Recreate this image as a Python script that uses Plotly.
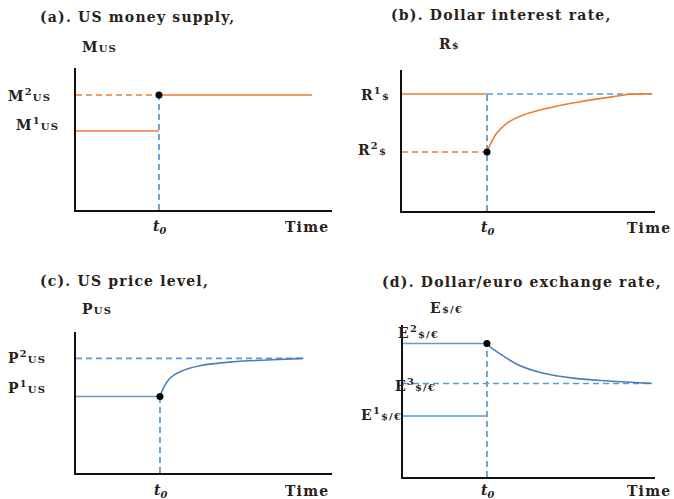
import plotly.graph_objects as go

W, H = 674, 499
ORANGE = "#ED7D31"
BLUE = "#5B9BD5"
BLUE_DARK = "#4A7DBA"
INK = "#2a2118"
SERIF = "DejaVu Serif"

# ---- (a) US money supply: step up at t0 ----
a_t0, a_end = 3.24, 9.22
a_m1, a_m2 = 5.56, 8.10

# ---- (b) Dollar interest rate: drops at t0, then recovers ----
b_t0, b_end = 3.36, 9.88
b_r1, b_r2 = 8.30, 4.18
b_curve_t = [3.36, 3.48, 3.74, 4.14, 4.79, 5.72, 7.04, 8.35, 9.01, 9.88]
b_curve_r = [4.18, 4.68, 5.51, 6.22, 6.81, 7.28, 7.75, 8.11, 8.28, 8.30]

# ---- (c) US price level: gradual rise after t0 ----
c_t0, c_end = 3.28, 8.95
c_p1, c_p2 = 5.43, 8.13
c_curve_t = [3.28, 3.41, 3.67, 4.06, 4.84, 6.14, 7.45, 8.88]
c_curve_p = [5.43, 6.01, 6.72, 7.18, 7.61, 7.89, 8.01, 8.13]

# ---- (d) Dollar/euro exchange rate: overshoot then settle ----
d_t0, d_end = 3.33, 9.88
d_e1, d_e2, d_e3 = 4.01, 8.78, 6.15
d_curve_t = [3.33, 3.45, 3.92, 4.58, 5.50, 6.83, 8.15, 9.87]
d_curve_e = [8.78, 8.57, 8.03, 7.37, 6.86, 6.49, 6.32, 6.16]

# plot boxes in pixels: (left, right, top, bottom)
boxes = {
    "a": (76, 332, 68, 210),
    "b": (402, 655, 70, 211),
    "c": (76, 332, 332, 473),
    "d": (403, 655, 325, 477),
}
axis_ids = {"a": ("x", "y"), "b": ("x2", "y2"), "c": ("x3", "y3"), "d": ("x4", "y4")}

fig = go.Figure()


def line(panel, xs, ys, color, dash="solid", width=1.6, shape="linear"):
    xa, ya = axis_ids[panel]
    fig.add_trace(go.Scatter(
        x=xs, y=ys, xaxis=xa, yaxis=ya, mode="lines",
        line=dict(color=color, width=width, dash=dash, shape=shape, smoothing=1.0),
        hoverinfo="skip", showlegend=False))


def dot(panel, x, y):
    xa, ya = axis_ids[panel]
    fig.add_trace(go.Scatter(
        x=[x], y=[y], xaxis=xa, yaxis=ya, mode="markers",
        marker=dict(color="black", size=7), hoverinfo="skip",
        showlegend=False, cliponaxis=False))


DASH = "6px,4px"

# (a)
line("a", [0, a_t0], [a_m2, a_m2], ORANGE, DASH)
line("a", [0, a_t0], [a_m1, a_m1], ORANGE)
line("a", [a_t0, a_end], [a_m2, a_m2], ORANGE)
line("a", [a_t0, a_t0], [0, a_m2], BLUE, DASH, 1.8)
dot("a", a_t0, a_m2)

# (b)
line("b", [0, b_t0], [b_r1, b_r1], ORANGE)
line("b", [b_t0, b_end], [b_r1, b_r1], BLUE, DASH)
line("b", [0, b_t0], [b_r2, b_r2], ORANGE, DASH)
line("b", [b_t0, b_t0], [0, b_r1], BLUE, DASH, 1.8)
line("b", b_curve_t, b_curve_r, ORANGE, shape="spline")
dot("b", b_t0, b_r2)

# (c)
line("c", [0, c_end], [c_p2, c_p2], BLUE, DASH)
line("c", [0, c_t0], [c_p1, c_p1], BLUE)
line("c", [c_t0, c_t0], [0, c_p1], BLUE, DASH, 1.8)
line("c", c_curve_t, c_curve_p, BLUE_DARK, shape="spline")
dot("c", c_t0, c_p1)

# (d)
line("d", [0, d_t0], [d_e2, d_e2], BLUE)
line("d", [0, d_t0], [d_e1, d_e1], BLUE)
line("d", [0, d_end], [d_e3, d_e3], BLUE, DASH)
line("d", [d_t0, d_t0], [0, d_e2], BLUE, DASH, 1.8)
line("d", d_curve_t, d_curve_e, BLUE_DARK, shape="spline")
dot("d", d_t0, d_e2)

layout_axes = {}
for panel, (l, r, t, b) in boxes.items():
    xa, ya = axis_ids[panel]
    xkey = "xaxis" if xa == "x" else "xaxis" + xa[1:]
    ykey = "yaxis" if ya == "y" else "yaxis" + ya[1:]
    common = dict(showline=True, linecolor="#111", linewidth=2, showgrid=False,
                  zeroline=False, showticklabels=False, ticks="", fixedrange=True)
    layout_axes[xkey] = dict(domain=[l / W, r / W], range=[0, 10],
                             anchor=ya, **common)
    layout_axes[ykey] = dict(domain=[1 - b / H, 1 - t / H], range=[0, 10],
                             anchor=xa, **common)

annotations = []


def label(text, px, py, xanchor="left", size=14, italic=False, spacing=1.2):
    annotations.append(dict(
        text="<span style='letter-spacing:%.1fpx'>%s</span>" % (spacing, text),
        x=px / W, y=1 - py / H, xref="paper", yref="paper",
        xanchor=xanchor, yanchor="middle", showarrow=False,
        font=dict(family=SERIF, size=size, color=INK, weight="bold",
                  style="italic" if italic else "normal")))


SUB = "<span style='font-size:10px'>{}</span>"

# titles
label("(a). US money supply,", 38, 17)
label("M" + SUB.format("US"), 80, 47)
label("(b). Dollar interest rate,", 389, 15)
label("R" + SUB.format("$"), 437, 44)
label("(c). US price level,", 38, 281)
label("P" + SUB.format("US"), 80, 309)
label("(d). Dollar/euro exchange rate,", 380, 282)
label("E" + SUB.format("$/€"), 428, 308)

# level labels
label("M<sup>2</sup>" + SUB.format("US"), 53, 95, "right")
label("M<sup>1</sup>" + SUB.format("US"), 61, 124, "right")
label("R<sup>1</sup>" + SUB.format("$"), 392, 94, "right")
label("R<sup>2</sup>" + SUB.format("$"), 389, 149, "right")
label("P<sup>2</sup>" + SUB.format("US"), 48, 357, "right")
label("P<sup>1</sup>" + SUB.format("US"), 48, 387, "right")
label("E<sup>2</sup>" + SUB.format("$/€"), 441, 332, "right")
label("E<sup>3</sup>" + SUB.format("$/€"), 438, 385, "right")
label("E<sup>1</sup>" + SUB.format("$/€"), 404, 414, "right")

# time axis labels
for px, py in [(159, 227), (487, 228), (160, 491), (487, 491)]:
    label("<i>t<sub>0</sub></i>", px, py, "center", spacing=0)
for px, py in [(331, 227), (673, 228), (331, 491), (673, 491)]:
    label("Time", px, py, "right")

fig.update_layout(
    width=W, height=H, margin=dict(l=0, r=0, t=0, b=0),
    paper_bgcolor="white", plot_bgcolor="white",
    annotations=annotations, **layout_axes)

fig.write_html("out.html", config={"displayModeBar": False})
